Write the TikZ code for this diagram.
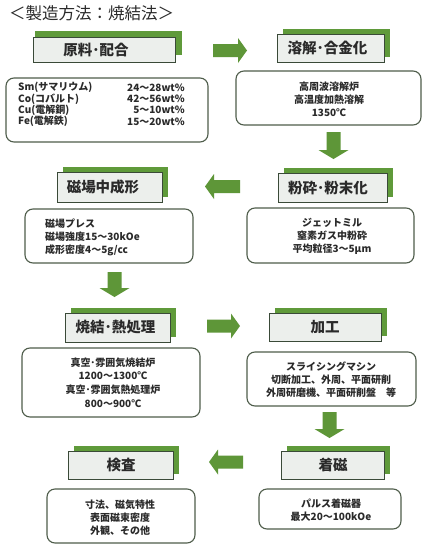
\documentclass[tikz,border=0pt]{standalone}
\usepackage{fontspec}
\newfontfamily\jp{Noto Sans CJK JP}
\definecolor{argreen}{HTML}{5E9638}
\definecolor{shgreen}{HTML}{5F9A3A}
\definecolor{hdrfill}{HTML}{ECEFEC}
\definecolor{hdrline}{HTML}{3A4A38}
\definecolor{cline}{HTML}{4F5D4B}
\definecolor{txt}{HTML}{2A2A2A}
\tikzset{
  hdrbox/.style={draw=hdrline, fill=hdrfill, line width=1pt, inner sep=0pt, anchor=north west},
  hdrtext/.style={font=\jp\bfseries\fontsize{14.5}{16}\selectfont, text=txt, inner sep=0pt},
  cbox/.style={draw=cline, line width=1.1pt, rounded corners=8pt, fill=white},
  ctext/.style={font=\jp\bfseries\fontsize{10}{13}\selectfont, text=txt, inner sep=0pt, align=center},
  titletext/.style={font=\jp\fontsize{16.5}{19}\selectfont, text=txt, inner sep=0pt, anchor=west},
}
% header: name, x1, y1, width, height
\newcommand\mkhdr[5]{%
  \fill[shgreen] (#2+6,#3-5) rectangle (#2+#4+6,#3+#5-5);
  \node[hdrbox, minimum width=#4, minimum height=#5] (#1) at (#2,#3) {};
}
% horizontal arrow: tail x, tip x, center y
\newcommand\harrow[3]{%
  \fill[argreen] (#1,#3-6.5) -- ({#2-9*sign(#2-#1)},#3-6.5) -- ({#2-9*sign(#2-#1)},#3-12.5) -- (#2,#3)
     -- ({#2-9*sign(#2-#1)},#3+12.5) -- ({#2-9*sign(#2-#1)},#3+6.5) -- (#1,#3+6.5) -- cycle;
}
% vertical arrow: tail y, tip y, center x
\newcommand\varrow[3]{%
  \fill[argreen] (#3-7,#1) -- (#3-7,#2-9) -- (#3-15,#2-9) -- (#3,#2) -- (#3+15,#2-9) -- (#3+7,#2-9) -- (#3+7,#1) -- cycle;
}
\begin{document}
\begin{tikzpicture}[x=1pt,y=-1pt]
\useasboundingbox (0,0) rectangle (428,560);
\fill[white] (0,0) rectangle (428,560);

\node[titletext] (title) at (9,13) {＜製造方法：焼結法＞};

% headers
\fill[shgreen] (35,31) rectangle (182,55);
\node[hdrbox, minimum width=142, minimum height=25] (h1) at (33,37) {};
\node[hdrtext] (h1t) at (96,49.5) {原料･配合};

\mkhdr{h2}{277}{34}{107}{28}
\node[hdrtext] (h2t) at (327.5,48) {溶解･合金化};

\mkhdr{h3}{278}{173}{109}{29}
\node[hdrtext] (h3t) at (328,187.5) {粉砕･粉末化};

\mkhdr{h4}{57}{172}{105}{30}
\node[hdrtext] (h4t) at (103,187) {磁場中成形};

\mkhdr{h5}{65}{313}{105}{29}
\node[hdrtext] (h5t) at (115.5,327.5) {焼結･熱処理};

\mkhdr{h6}{269}{313}{112}{28}
\node[hdrtext] (h6t) at (325,327) {加工};

\mkhdr{h7}{281}{451}{103}{28}
\node[hdrtext] (h7t) at (333,465) {着磁};

\mkhdr{h8}{68}{451}{105}{28}
\node[hdrtext] (h8t) at (121,465) {検査};

% content boxes
\draw[cbox] (6,78) rectangle (208,142);
\node[ctext, align=left, anchor=west, font=\jp\bfseries\fontsize{10}{11.3}\selectfont] (c1l) at (18,104.5)
  {Sm(サマリウム)\\Co(コバルト)\\Cu(電解銅)\\Fe(電解鉄)};
\node[ctext, align=right, anchor=east, font=\jp\bfseries\fontsize{10}{11.3}\selectfont] (c1r) at (185,104.5)
  {24～28wt\%\\42～56wt\%\\5～10wt\%\\15～20wt\%};

\draw[cbox] (236,71) rectangle (421,125);
\node[ctext] (c2) at (329,99) {高周波溶解炉\\高温度加熱溶解\\1350℃};

\draw[cbox] (247,208) rectangle (414,263);
\node[ctext] (c3) at (332,236) {ジェットミル\\窒素ガス中粉砕\\平均粒径3～5μm};

\draw[cbox] (25,209) rectangle (193,263);
\node[ctext, align=left, anchor=west] (c4) at (45,237) {磁場プレス\\磁場強度15～30kOe\\成形密度4～5g/cc};

\draw[cbox] (22,348) rectangle (200,417);
\node[ctext, font=\jp\bfseries\fontsize{10}{13.6}\selectfont] (c5) at (113,382.5) {真空･雰囲気焼結炉\\1200～1300℃\\真空･雰囲気熱処理炉\\800～900℃};

\draw[cbox] (247,352) rectangle (416,406);
\node[ctext] (c6) at (331,379.5) {スライシングマシン\\切断加工、外周、平面研削\\外周研磨機、平面研削盤　等};

\draw[cbox] (259,489) rectangle (401,529);
\node[ctext] (c7) at (331,510) {パルス着磁器\\最大20～100kOe};

\draw[cbox] (47,489) rectangle (195,543);
\node[ctext] (c8) at (120,517.5) {寸法、磁気特性\\表面磁束密度\\外観、その他};

% arrows
\harrow{213}{247}{50.5}
\varrow{132}{159}{333.5}
\harrow{240}{205}{186.5}
\varrow{272}{297}{114.5}
\harrow{207}{240}{326}
\varrow{412}{438}{329.5}
\harrow{243}{209}{462}
\end{tikzpicture}
\end{document}
